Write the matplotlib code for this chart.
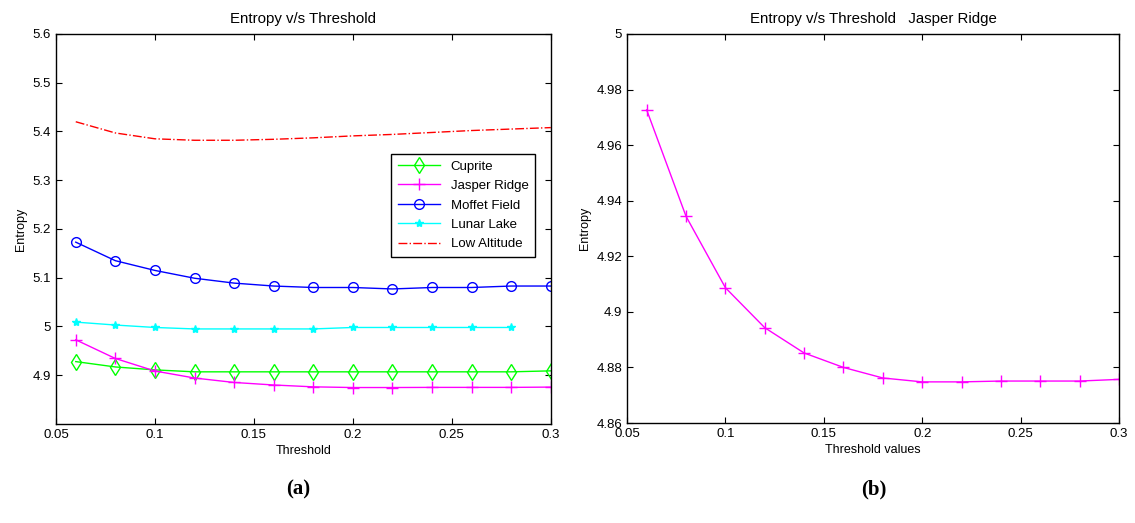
import numpy as np
import matplotlib
matplotlib.use("Agg")
import matplotlib.pyplot as plt
from matplotlib.ticker import FuncFormatter

# threshold values
thresh = [0.06, 0.08, 0.10, 0.12, 0.14, 0.16, 0.18, 0.20, 0.22, 0.24, 0.26, 0.28, 0.30]
thresh_lunar = thresh[:-1]

# entropy per image
cuprite = [4.928, 4.917, 4.911, 4.907, 4.907, 4.907, 4.907, 4.907, 4.907, 4.907, 4.907, 4.907, 4.909]
jasper = [4.9727, 4.9344, 4.9087, 4.8943, 4.8852, 4.8800, 4.8762, 4.8748, 4.8748, 4.8751, 4.8751, 4.8751, 4.8757]
moffet = [5.173, 5.135, 5.115, 5.099, 5.089, 5.083, 5.080, 5.080, 5.077, 5.080, 5.080, 5.083, 5.083]
lunar = [5.009, 5.003, 4.998, 4.995, 4.995, 4.995, 4.995, 4.998, 4.998, 4.998, 4.998, 4.998]
low_alt = [5.420, 5.397, 5.385, 5.382, 5.382, 5.384, 5.387, 5.391, 5.394, 5.398, 5.402, 5.405, 5.408]

left_yticks = [4.9, 5.0, 5.1, 5.2, 5.3, 5.4, 5.5, 5.6]
right_yticks = [4.86, 4.88, 4.90, 4.92, 4.94, 4.96, 4.98, 5.0]
xticks = [0.05, 0.1, 0.15, 0.2, 0.25, 0.3]

plt.rcParams['font.family'] = ['Liberation Sans', 'DejaVu Sans']
plt.rcParams['font.size'] = 9

fig = plt.figure(figsize=(11.35, 5.23), dpi=100)
ax1 = fig.add_axes([0.0493, 0.1893, 0.436, 0.7457])
ax2 = fig.add_axes([0.5524, 0.1912, 0.4335, 0.7438])

fmt = FuncFormatter(lambda v, p: '%g' % round(v, 4))

ax1.plot(thresh, cuprite, color=(0, 1, 0), marker='d', mfc='none', ms=8, lw=1, label='Cuprite')
ax1.plot(thresh, jasper, color=(1, 0, 1), marker='+', ms=8, lw=1, label='Jasper Ridge')
ax1.plot(thresh, moffet, color=(0, 0, 1), marker='o', mfc='none', ms=7, lw=1, label='Moffet Field')
ax1.plot(thresh_lunar, lunar, color=(0, 1, 1), marker='*', ms=6, lw=1, label='Lunar Lake')
ax1.plot(thresh, low_alt, color=(1, 0, 0), ls='-.', lw=1, label='Low Altitude')
ax1.set_xlim(0.05, 0.3)
ax1.set_ylim(4.8, 5.6)
ax1.set_yticks(left_yticks)
ax1.set_title('Entropy v/s Threshold', pad=8)
ax1.set_xlabel('Threshold', labelpad=3)
ax1.set_ylabel('Entropy', labelpad=4)
leg = ax1.legend(loc='upper right', bbox_to_anchor=(0.982, 0.71), fancybox=False,
                 edgecolor='black', framealpha=1, handlelength=3.2, borderpad=0.5,
                 labelspacing=0.55, fontsize=9.5)
leg.get_frame().set_linewidth(1)

ax2.plot(thresh, jasper, color=(1, 0, 1), marker='+', ms=9, lw=1)
ax2.set_xlim(0.05, 0.3)
ax2.set_ylim(4.86, 5.0)
ax2.set_yticks(right_yticks)
ax2.set_title('Entropy v/s Threshold   Jasper Ridge', pad=8)
ax2.set_xlabel('Threshold values', labelpad=3)
ax2.set_ylabel('Entropy', labelpad=4)

for ax in (ax1, ax2):
    ax.set_xticks(xticks)
    ax.xaxis.set_major_formatter(fmt)
    ax.yaxis.set_major_formatter(fmt)
    ax.tick_params(direction='in', top=True, right=True, length=4, width=0.8, labelsize=9.5)
    for s in ax.spines.values():
        s.set_linewidth(1)

fig.text(0.2625, 0.065, '(a)', ha='center', va='center', fontsize=15, fontweight='bold',
         family=['Liberation Serif', 'DejaVu Serif'])
fig.text(0.7695, 0.065, '(b)', ha='center', va='center', fontsize=15, fontweight='bold',
         family=['Liberation Serif', 'DejaVu Serif'])

fig.savefig('out.png', dpi=100)
